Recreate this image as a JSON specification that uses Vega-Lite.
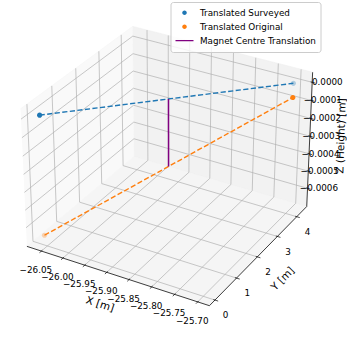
{
  "$schema": "https://vega.github.io/schema/vega-lite/v6.json",
  "width": 347,
  "height": 337,
  "autosize": {"type": "none"},
  "padding": 0,
  "background": "white",
  "params": [
    {"name": "x0", "value": -26.084},
    {"name": "x1", "value": -25.675},
    {"name": "y0", "value": -0.25},
    {"name": "y1", "value": 4.53},
    {"name": "z0", "value": -0.000707},
    {"name": "z1", "value": 0.0000549}
  ],
  "config": {
    "font": "DejaVu Sans",
    "view": {"stroke": null},
    "text": {"font": "DejaVu Sans", "fontSize": 8.8, "color": "#000000"}
  },
  "datasets": {
    "panes": [
      {"pane": "x", "k": 0, "fx": 0, "fy": 0, "fz": 0}, {"pane": "x", "k": 1, "fx": 0, "fy": 1, "fz": 0},
      {"pane": "x", "k": 2, "fx": 0, "fy": 1, "fz": 1}, {"pane": "x", "k": 3, "fx": 0, "fy": 0, "fz": 1},
      {"pane": "y", "k": 0, "fx": 0, "fy": 1, "fz": 0}, {"pane": "y", "k": 1, "fx": 1, "fy": 1, "fz": 0},
      {"pane": "y", "k": 2, "fx": 1, "fy": 1, "fz": 1}, {"pane": "y", "k": 3, "fx": 0, "fy": 1, "fz": 1},
      {"pane": "z", "k": 0, "fx": 0, "fy": 0, "fz": 0}, {"pane": "z", "k": 1, "fx": 1, "fy": 0, "fz": 0},
      {"pane": "z", "k": 2, "fx": 1, "fy": 1, "fz": 0}, {"pane": "z", "k": 3, "fx": 0, "fy": 1, "fz": 0}
    ],
    "ticks": [
      {"axis": "x", "t": -26.05}, {"axis": "x", "t": -26.0}, {"axis": "x", "t": -25.95}, {"axis": "x", "t": -25.9},
      {"axis": "x", "t": -25.85}, {"axis": "x", "t": -25.8}, {"axis": "x", "t": -25.75}, {"axis": "x", "t": -25.7},
      {"axis": "y", "t": 0}, {"axis": "y", "t": 1}, {"axis": "y", "t": 2}, {"axis": "y", "t": 3}, {"axis": "y", "t": 4},
      {"axis": "z", "t": -0.0006}, {"axis": "z", "t": -0.0005}, {"axis": "z", "t": -0.0004}, {"axis": "z", "t": -0.0003},
      {"axis": "z", "t": -0.0002}, {"axis": "z", "t": -0.0001}, {"axis": "z", "t": 0}
    ],
    "axes": [
      {"axis": "x", "title": "X [m]"},
      {"axis": "y", "title": "Y [m]"},
      {"axis": "z", "title": "Z (Height) [m]"}
    ],
    "pts": [
      {"series": "Translated Surveyed", "k": 0, "X": -26.056, "Y": 0, "Z": 0.000015},
      {"series": "Translated Surveyed", "k": 1, "X": -25.7, "Y": 4.15, "Z": 0.000015},
      {"series": "Translated Original", "k": 0, "X": -26.056, "Y": 0, "Z": -0.00065},
      {"series": "Translated Original", "k": 1, "X": -25.7, "Y": 4.15, "Z": -0.000063},
      {"series": "Magnet Centre Translation", "k": 0, "X": -25.878, "Y": 2.075, "Z": -0.0003565},
      {"series": "Magnet Centre Translation", "k": 1, "X": -25.878, "Y": 2.075, "Z": 0.000015}
    ]
  },
  "layer": [
    {
      "data": {"name": "panes"},
      "transform": [
        {"filter": "datum.pane=='x'"},
        {"calculate": "x0+datum.fx*(x1-x0)", "as": "X"},
        {"calculate": "y0+datum.fy*(y1-y0)", "as": "Y"},
        {"calculate": "z0+datum.fz*(z1-z0)", "as": "Z"},
        {"calculate": "((datum.X-x0)/(x1-x0)*2-1)*0.5714286", "as": "ax"},
        {"calculate": "((datum.Y-y0)/(y1-y0)*2-1)*0.5714286", "as": "ay"},
        {"calculate": "((datum.Z-z0)/(z1-z0)*2-1)*0.4285714", "as": "az"},
        {"calculate": "10-(0.4330127*datum.ax-0.75*datum.ay+0.5*datum.az)", "as": "dn"},
        {"calculate": "(0.8660254*datum.ax+0.5*datum.ay)/datum.dn", "as": "sx"},
        {"calculate": "(-0.25*datum.ax+0.4330127*datum.ay+0.8660254*datum.az)/datum.dn", "as": "sy"}
      ],
      "mark": {"type": "line", "fill": "#f9f9f9", "stroke": "#f5f5f5", "strokeWidth": 0.6},
      "encoding": {
        "x": {"field": "sx", "type": "quantitative", "scale": {"domain": [-0.09251, 0.0971], "nice": false, "zero": false}, "axis": null},
        "y": {"field": "sy", "type": "quantitative", "scale": {"domain": [-0.09694, 0.08721], "nice": false, "zero": false}, "axis": null},
        "order": {"field": "k", "type": "quantitative"}
      }
    },
    {
      "data": {"name": "panes"},
      "transform": [
        {"filter": "datum.pane=='y'"},
        {"calculate": "x0+datum.fx*(x1-x0)", "as": "X"},
        {"calculate": "y0+datum.fy*(y1-y0)", "as": "Y"},
        {"calculate": "z0+datum.fz*(z1-z0)", "as": "Z"},
        {"calculate": "((datum.X-x0)/(x1-x0)*2-1)*0.5714286", "as": "ax"},
        {"calculate": "((datum.Y-y0)/(y1-y0)*2-1)*0.5714286", "as": "ay"},
        {"calculate": "((datum.Z-z0)/(z1-z0)*2-1)*0.4285714", "as": "az"},
        {"calculate": "10-(0.4330127*datum.ax-0.75*datum.ay+0.5*datum.az)", "as": "dn"},
        {"calculate": "(0.8660254*datum.ax+0.5*datum.ay)/datum.dn", "as": "sx"},
        {"calculate": "(-0.25*datum.ax+0.4330127*datum.ay+0.8660254*datum.az)/datum.dn", "as": "sy"}
      ],
      "mark": {"type": "line", "fill": "#f2f2f2", "stroke": "#eeeeee", "strokeWidth": 0.6},
      "encoding": {
        "x": {"field": "sx", "type": "quantitative", "scale": {"domain": [-0.09251, 0.0971], "nice": false, "zero": false}, "axis": null},
        "y": {"field": "sy", "type": "quantitative", "scale": {"domain": [-0.09694, 0.08721], "nice": false, "zero": false}, "axis": null},
        "order": {"field": "k", "type": "quantitative"}
      }
    },
    {
      "data": {"name": "panes"},
      "transform": [
        {"filter": "datum.pane=='z'"},
        {"calculate": "x0+datum.fx*(x1-x0)", "as": "X"},
        {"calculate": "y0+datum.fy*(y1-y0)", "as": "Y"},
        {"calculate": "z0+datum.fz*(z1-z0)", "as": "Z"},
        {"calculate": "((datum.X-x0)/(x1-x0)*2-1)*0.5714286", "as": "ax"},
        {"calculate": "((datum.Y-y0)/(y1-y0)*2-1)*0.5714286", "as": "ay"},
        {"calculate": "((datum.Z-z0)/(z1-z0)*2-1)*0.4285714", "as": "az"},
        {"calculate": "10-(0.4330127*datum.ax-0.75*datum.ay+0.5*datum.az)", "as": "dn"},
        {"calculate": "(0.8660254*datum.ax+0.5*datum.ay)/datum.dn", "as": "sx"},
        {"calculate": "(-0.25*datum.ax+0.4330127*datum.ay+0.8660254*datum.az)/datum.dn", "as": "sy"}
      ],
      "mark": {"type": "line", "fill": "#f5f5f5", "stroke": "#f1f1f1", "strokeWidth": 0.6},
      "encoding": {
        "x": {"field": "sx", "type": "quantitative", "scale": {"domain": [-0.09251, 0.0971], "nice": false, "zero": false}, "axis": null},
        "y": {"field": "sy", "type": "quantitative", "scale": {"domain": [-0.09694, 0.08721], "nice": false, "zero": false}, "axis": null},
        "order": {"field": "k", "type": "quantitative"}
      }
    },
    {
      "data": {"name": "ticks"},
      "transform": [
        {"calculate": "datum.axis=='x'?datum.t:x0", "as": "X"},
        {"calculate": "datum.axis=='y'?datum.t:y0", "as": "Y"},
        {"calculate": "datum.axis=='z'?datum.t:z0", "as": "Z"},
        {"calculate": "datum.axis=='x'?datum.t:(datum.axis=='y'?x1:x0)", "as": "X2"},
        {"calculate": "datum.axis=='y'?datum.t:y1", "as": "Y2"},
        {"calculate": "datum.axis=='z'?datum.t:z0", "as": "Z2"},
        {"calculate": "((datum.X-x0)/(x1-x0)*2-1)*0.5714286", "as": "ax"},
        {"calculate": "((datum.Y-y0)/(y1-y0)*2-1)*0.5714286", "as": "ay"},
        {"calculate": "((datum.Z-z0)/(z1-z0)*2-1)*0.4285714", "as": "az"},
        {"calculate": "10-(0.4330127*datum.ax-0.75*datum.ay+0.5*datum.az)", "as": "dn"},
        {"calculate": "(0.8660254*datum.ax+0.5*datum.ay)/datum.dn", "as": "sx"},
        {"calculate": "(-0.25*datum.ax+0.4330127*datum.ay+0.8660254*datum.az)/datum.dn", "as": "sy"},
        {"calculate": "((datum.X2-x0)/(x1-x0)*2-1)*0.5714286", "as": "bx"},
        {"calculate": "((datum.Y2-y0)/(y1-y0)*2-1)*0.5714286", "as": "by"},
        {"calculate": "((datum.Z2-z0)/(z1-z0)*2-1)*0.4285714", "as": "bz"},
        {"calculate": "10-(0.4330127*datum.bx-0.75*datum.by+0.5*datum.bz)", "as": "dn2"},
        {"calculate": "(0.8660254*datum.bx+0.5*datum.by)/datum.dn2", "as": "sx2"},
        {"calculate": "(-0.25*datum.bx+0.4330127*datum.by+0.8660254*datum.bz)/datum.dn2", "as": "sy2"}
      ],
      "mark": {"type": "rule", "stroke": "#b0b0b0", "strokeWidth": 0.7},
      "encoding": {
        "x": {"field": "sx", "type": "quantitative", "scale": {"domain": [-0.09251, 0.0971], "nice": false, "zero": false}, "axis": null},
        "y": {"field": "sy", "type": "quantitative", "scale": {"domain": [-0.09694, 0.08721], "nice": false, "zero": false}, "axis": null},
        "x2": {"field": "sx2"},
        "y2": {"field": "sy2"}
      }
    },
    {
      "data": {"name": "ticks"},
      "transform": [
        {"calculate": "datum.axis=='x'?datum.t:x0", "as": "X"},
        {"calculate": "datum.axis=='y'?datum.t:y1", "as": "Y"},
        {"calculate": "datum.axis=='z'?datum.t:z0", "as": "Z"},
        {"calculate": "datum.axis=='x'?datum.t:(datum.axis=='z'?x1:x0)", "as": "X2"},
        {"calculate": "datum.axis=='y'?datum.t:y1", "as": "Y2"},
        {"calculate": "datum.axis=='z'?datum.t:z1", "as": "Z2"},
        {"calculate": "((datum.X-x0)/(x1-x0)*2-1)*0.5714286", "as": "ax"},
        {"calculate": "((datum.Y-y0)/(y1-y0)*2-1)*0.5714286", "as": "ay"},
        {"calculate": "((datum.Z-z0)/(z1-z0)*2-1)*0.4285714", "as": "az"},
        {"calculate": "10-(0.4330127*datum.ax-0.75*datum.ay+0.5*datum.az)", "as": "dn"},
        {"calculate": "(0.8660254*datum.ax+0.5*datum.ay)/datum.dn", "as": "sx"},
        {"calculate": "(-0.25*datum.ax+0.4330127*datum.ay+0.8660254*datum.az)/datum.dn", "as": "sy"},
        {"calculate": "((datum.X2-x0)/(x1-x0)*2-1)*0.5714286", "as": "bx"},
        {"calculate": "((datum.Y2-y0)/(y1-y0)*2-1)*0.5714286", "as": "by"},
        {"calculate": "((datum.Z2-z0)/(z1-z0)*2-1)*0.4285714", "as": "bz"},
        {"calculate": "10-(0.4330127*datum.bx-0.75*datum.by+0.5*datum.bz)", "as": "dn2"},
        {"calculate": "(0.8660254*datum.bx+0.5*datum.by)/datum.dn2", "as": "sx2"},
        {"calculate": "(-0.25*datum.bx+0.4330127*datum.by+0.8660254*datum.bz)/datum.dn2", "as": "sy2"}
      ],
      "mark": {"type": "rule", "stroke": "#b0b0b0", "strokeWidth": 0.7},
      "encoding": {
        "x": {"field": "sx", "type": "quantitative", "scale": {"domain": [-0.09251, 0.0971], "nice": false, "zero": false}, "axis": null},
        "y": {"field": "sy", "type": "quantitative", "scale": {"domain": [-0.09694, 0.08721], "nice": false, "zero": false}, "axis": null},
        "x2": {"field": "sx2"},
        "y2": {"field": "sy2"}
      }
    },
    {
      "data": {"name": "axes"},
      "transform": [
        {"calculate": "datum.axis=='x'?x0:x1", "as": "X"},
        {"calculate": "datum.axis=='z'?y1:y0", "as": "Y"},
        {"calculate": "z0", "as": "Z"},
        {"calculate": "x1", "as": "X2"},
        {"calculate": "datum.axis=='x'?y0:y1", "as": "Y2"},
        {"calculate": "datum.axis=='z'?z1:z0", "as": "Z2"},
        {"calculate": "((datum.X-x0)/(x1-x0)*2-1)*0.5714286", "as": "ax"},
        {"calculate": "((datum.Y-y0)/(y1-y0)*2-1)*0.5714286", "as": "ay"},
        {"calculate": "((datum.Z-z0)/(z1-z0)*2-1)*0.4285714", "as": "az"},
        {"calculate": "10-(0.4330127*datum.ax-0.75*datum.ay+0.5*datum.az)", "as": "dn"},
        {"calculate": "(0.8660254*datum.ax+0.5*datum.ay)/datum.dn", "as": "sx"},
        {"calculate": "(-0.25*datum.ax+0.4330127*datum.ay+0.8660254*datum.az)/datum.dn", "as": "sy"},
        {"calculate": "((datum.X2-x0)/(x1-x0)*2-1)*0.5714286", "as": "bx"},
        {"calculate": "((datum.Y2-y0)/(y1-y0)*2-1)*0.5714286", "as": "by"},
        {"calculate": "((datum.Z2-z0)/(z1-z0)*2-1)*0.4285714", "as": "bz"},
        {"calculate": "10-(0.4330127*datum.bx-0.75*datum.by+0.5*datum.bz)", "as": "dn2"},
        {"calculate": "(0.8660254*datum.bx+0.5*datum.by)/datum.dn2", "as": "sx2"},
        {"calculate": "(-0.25*datum.bx+0.4330127*datum.by+0.8660254*datum.bz)/datum.dn2", "as": "sy2"}
      ],
      "mark": {"type": "rule", "stroke": "#000000", "strokeWidth": 0.75},
      "encoding": {
        "x": {"field": "sx", "type": "quantitative", "scale": {"domain": [-0.09251, 0.0971], "nice": false, "zero": false}, "axis": null},
        "y": {"field": "sy", "type": "quantitative", "scale": {"domain": [-0.09694, 0.08721], "nice": false, "zero": false}, "axis": null},
        "x2": {"field": "sx2"},
        "y2": {"field": "sy2"}
      }
    },
    {
      "data": {"name": "ticks"},
      "transform": [
        {"calculate": "datum.axis=='x'?datum.t:x1-0.1*(x1-x0)/12", "as": "X"},
        {"calculate": "datum.axis=='x'?y0+0.1*(y1-y0)/12:(datum.axis=='y'?datum.t:y1)", "as": "Y"},
        {"calculate": "datum.axis=='z'?datum.t:z0", "as": "Z"},
        {"calculate": "datum.axis=='x'?datum.t:x1+0.2*(x1-x0)/12", "as": "X2"},
        {"calculate": "datum.axis=='x'?y0-0.2*(y1-y0)/12:(datum.axis=='y'?datum.t:y1)", "as": "Y2"},
        {"calculate": "datum.axis=='z'?datum.t:z0", "as": "Z2"},
        {"calculate": "((datum.X-x0)/(x1-x0)*2-1)*0.5714286", "as": "ax"},
        {"calculate": "((datum.Y-y0)/(y1-y0)*2-1)*0.5714286", "as": "ay"},
        {"calculate": "((datum.Z-z0)/(z1-z0)*2-1)*0.4285714", "as": "az"},
        {"calculate": "10-(0.4330127*datum.ax-0.75*datum.ay+0.5*datum.az)", "as": "dn"},
        {"calculate": "(0.8660254*datum.ax+0.5*datum.ay)/datum.dn", "as": "sx"},
        {"calculate": "(-0.25*datum.ax+0.4330127*datum.ay+0.8660254*datum.az)/datum.dn", "as": "sy"},
        {"calculate": "((datum.X2-x0)/(x1-x0)*2-1)*0.5714286", "as": "bx"},
        {"calculate": "((datum.Y2-y0)/(y1-y0)*2-1)*0.5714286", "as": "by"},
        {"calculate": "((datum.Z2-z0)/(z1-z0)*2-1)*0.4285714", "as": "bz"},
        {"calculate": "10-(0.4330127*datum.bx-0.75*datum.by+0.5*datum.bz)", "as": "dn2"},
        {"calculate": "(0.8660254*datum.bx+0.5*datum.by)/datum.dn2", "as": "sx2"},
        {"calculate": "(-0.25*datum.bx+0.4330127*datum.by+0.8660254*datum.bz)/datum.dn2", "as": "sy2"}
      ],
      "mark": {"type": "rule", "stroke": "#000000", "strokeWidth": 0.7},
      "encoding": {
        "x": {"field": "sx", "type": "quantitative", "scale": {"domain": [-0.09251, 0.0971], "nice": false, "zero": false}, "axis": null},
        "y": {"field": "sy", "type": "quantitative", "scale": {"domain": [-0.09694, 0.08721], "nice": false, "zero": false}, "axis": null},
        "x2": {"field": "sx2"},
        "y2": {"field": "sy2"}
      }
    },
    {
      "data": {"name": "ticks"},
      "transform": [
        {"filter": "datum.axis=='x'"},
        {"calculate": "datum.t", "as": "X"},
        {"calculate": "y0", "as": "Y"},
        {"calculate": "z0", "as": "Z"},
        {"calculate": "((datum.X-x0)/(x1-x0)*2-1)*0.5714286", "as": "ax"},
        {"calculate": "((datum.Y-y0)/(y1-y0)*2-1)*0.5714286", "as": "ay"},
        {"calculate": "((datum.Z-z0)/(z1-z0)*2-1)*0.4285714", "as": "az"},
        {"calculate": "10-(0.4330127*datum.ax-0.75*datum.ay+0.5*datum.az)", "as": "dn"},
        {"calculate": "(0.8660254*datum.ax+0.5*datum.ay)/datum.dn", "as": "sx"},
        {"calculate": "(-0.25*datum.ax+0.4330127*datum.ay+0.8660254*datum.az)/datum.dn", "as": "sy"}
      ],
      "mark": {"type": "text", "align": "center", "baseline": "middle", "dx": -5.5, "dy": 19, "fontSize": 8.8},
      "encoding": {
        "x": {"field": "sx", "type": "quantitative", "scale": {"domain": [-0.09251, 0.0971], "nice": false, "zero": false}, "axis": null},
        "y": {"field": "sy", "type": "quantitative", "scale": {"domain": [-0.09694, 0.08721], "nice": false, "zero": false}, "axis": null},
        "text": {"field": "t", "type": "quantitative", "format": ".2f"}
      }
    },
    {
      "data": {"name": "ticks"},
      "transform": [
        {"filter": "datum.axis=='y'"},
        {"calculate": "x1", "as": "X"},
        {"calculate": "datum.t", "as": "Y"},
        {"calculate": "z0", "as": "Z"},
        {"calculate": "((datum.X-x0)/(x1-x0)*2-1)*0.5714286", "as": "ax"},
        {"calculate": "((datum.Y-y0)/(y1-y0)*2-1)*0.5714286", "as": "ay"},
        {"calculate": "((datum.Z-z0)/(z1-z0)*2-1)*0.4285714", "as": "az"},
        {"calculate": "10-(0.4330127*datum.ax-0.75*datum.ay+0.5*datum.az)", "as": "dn"},
        {"calculate": "(0.8660254*datum.ax+0.5*datum.ay)/datum.dn", "as": "sx"},
        {"calculate": "(-0.25*datum.ax+0.4330127*datum.ay+0.8660254*datum.az)/datum.dn", "as": "sy"}
      ],
      "mark": {"type": "text", "align": "center", "baseline": "middle", "dx": 10.7, "dy": 15.2, "fontSize": 8.8},
      "encoding": {
        "x": {"field": "sx", "type": "quantitative", "scale": {"domain": [-0.09251, 0.0971], "nice": false, "zero": false}, "axis": null},
        "y": {"field": "sy", "type": "quantitative", "scale": {"domain": [-0.09694, 0.08721], "nice": false, "zero": false}, "axis": null},
        "text": {"field": "t", "type": "quantitative", "format": ".0f"}
      }
    },
    {
      "data": {"name": "ticks"},
      "transform": [
        {"filter": "datum.axis=='z'"},
        {"calculate": "x1", "as": "X"},
        {"calculate": "y1", "as": "Y"},
        {"calculate": "datum.t", "as": "Z"},
        {"calculate": "((datum.X-x0)/(x1-x0)*2-1)*0.5714286", "as": "ax"},
        {"calculate": "((datum.Y-y0)/(y1-y0)*2-1)*0.5714286", "as": "ay"},
        {"calculate": "((datum.Z-z0)/(z1-z0)*2-1)*0.4285714", "as": "az"},
        {"calculate": "10-(0.4330127*datum.ax-0.75*datum.ay+0.5*datum.az)", "as": "dn"},
        {"calculate": "(0.8660254*datum.ax+0.5*datum.ay)/datum.dn", "as": "sx"},
        {"calculate": "(-0.25*datum.ax+0.4330127*datum.ay+0.8660254*datum.az)/datum.dn", "as": "sy"}
      ],
      "mark": {"type": "text", "align": "right", "baseline": "middle", "dx": 30.5, "dy": 0, "fontSize": 8.8},
      "encoding": {
        "x": {"field": "sx", "type": "quantitative", "scale": {"domain": [-0.09251, 0.0971], "nice": false, "zero": false}, "axis": null},
        "y": {"field": "sy", "type": "quantitative", "scale": {"domain": [-0.09694, 0.08721], "nice": false, "zero": false}, "axis": null},
        "text": {"field": "t", "type": "quantitative", "format": ".4f"}
      }
    },
    {
      "data": {"name": "axes"},
      "transform": [
        {"filter": "datum.axis=='x'"},
        {"calculate": "(x0+x1)/2", "as": "X"},
        {"calculate": "y0", "as": "Y"},
        {"calculate": "z0", "as": "Z"},
        {"calculate": "((datum.X-x0)/(x1-x0)*2-1)*0.5714286", "as": "ax"},
        {"calculate": "((datum.Y-y0)/(y1-y0)*2-1)*0.5714286", "as": "ay"},
        {"calculate": "((datum.Z-z0)/(z1-z0)*2-1)*0.4285714", "as": "az"},
        {"calculate": "10-(0.4330127*datum.ax-0.75*datum.ay+0.5*datum.az)", "as": "dn"},
        {"calculate": "(0.8660254*datum.ax+0.5*datum.ay)/datum.dn", "as": "sx"},
        {"calculate": "(-0.25*datum.ax+0.4330127*datum.ay+0.8660254*datum.az)/datum.dn", "as": "sy"}
      ],
      "mark": {"type": "text", "align": "center", "baseline": "middle", "angle": 17.9, "dx": -6.1, "dy": 32.7, "fontSize": 10.5},
      "encoding": {
        "x": {"field": "sx", "type": "quantitative", "scale": {"domain": [-0.09251, 0.0971], "nice": false, "zero": false}, "axis": null},
        "y": {"field": "sy", "type": "quantitative", "scale": {"domain": [-0.09694, 0.08721], "nice": false, "zero": false}, "axis": null},
        "text": {"field": "title", "type": "nominal"}
      }
    },
    {
      "data": {"name": "axes"},
      "transform": [
        {"filter": "datum.axis=='y'"},
        {"calculate": "x1", "as": "X"},
        {"calculate": "(y0+y1)/2", "as": "Y"},
        {"calculate": "z0", "as": "Z"},
        {"calculate": "((datum.X-x0)/(x1-x0)*2-1)*0.5714286", "as": "ax"},
        {"calculate": "((datum.Y-y0)/(y1-y0)*2-1)*0.5714286", "as": "ay"},
        {"calculate": "((datum.Z-z0)/(z1-z0)*2-1)*0.4285714", "as": "az"},
        {"calculate": "10-(0.4330127*datum.ax-0.75*datum.ay+0.5*datum.az)", "as": "dn"},
        {"calculate": "(0.8660254*datum.ax+0.5*datum.ay)/datum.dn", "as": "sx"},
        {"calculate": "(-0.25*datum.ax+0.4330127*datum.ay+0.8660254*datum.az)/datum.dn", "as": "sy"}
      ],
      "mark": {"type": "text", "align": "center", "baseline": "middle", "angle": -45.8, "dx": -2.1, "dy": 33.8, "fontSize": 10.5},
      "encoding": {
        "x": {"field": "sx", "type": "quantitative", "scale": {"domain": [-0.09251, 0.0971], "nice": false, "zero": false}, "axis": null},
        "y": {"field": "sy", "type": "quantitative", "scale": {"domain": [-0.09694, 0.08721], "nice": false, "zero": false}, "axis": null},
        "text": {"field": "title", "type": "nominal"}
      }
    },
    {
      "data": {"name": "axes"},
      "transform": [
        {"filter": "datum.axis=='z'"},
        {"calculate": "x1", "as": "X"},
        {"calculate": "y1", "as": "Y"},
        {"calculate": "(z0+z1)/2", "as": "Z"},
        {"calculate": "((datum.X-x0)/(x1-x0)*2-1)*0.5714286", "as": "ax"},
        {"calculate": "((datum.Y-y0)/(y1-y0)*2-1)*0.5714286", "as": "ay"},
        {"calculate": "((datum.Z-z0)/(z1-z0)*2-1)*0.4285714", "as": "az"},
        {"calculate": "10-(0.4330127*datum.ax-0.75*datum.ay+0.5*datum.az)", "as": "dn"},
        {"calculate": "(0.8660254*datum.ax+0.5*datum.ay)/datum.dn", "as": "sx"},
        {"calculate": "(-0.25*datum.ax+0.4330127*datum.ay+0.8660254*datum.az)/datum.dn", "as": "sy"}
      ],
      "mark": {"type": "text", "align": "center", "baseline": "middle", "angle": -88.2, "dx": 5.8, "dy": 31.7, "fontSize": 10.5},
      "encoding": {
        "x": {"field": "sx", "type": "quantitative", "scale": {"domain": [-0.09251, 0.0971], "nice": false, "zero": false}, "axis": null},
        "y": {"field": "sy", "type": "quantitative", "scale": {"domain": [-0.09694, 0.08721], "nice": false, "zero": false}, "axis": null},
        "text": {"field": "title", "type": "nominal"}
      }
    },
    {
      "data": {"name": "pts"},
      "transform": [
        {"filter": "datum.series=='Translated Surveyed'"},
        {"calculate": "((datum.X-x0)/(x1-x0)*2-1)*0.5714286", "as": "ax"},
        {"calculate": "((datum.Y-y0)/(y1-y0)*2-1)*0.5714286", "as": "ay"},
        {"calculate": "((datum.Z-z0)/(z1-z0)*2-1)*0.4285714", "as": "az"},
        {"calculate": "10-(0.4330127*datum.ax-0.75*datum.ay+0.5*datum.az)", "as": "dn"},
        {"calculate": "(0.8660254*datum.ax+0.5*datum.ay)/datum.dn", "as": "sx"},
        {"calculate": "(-0.25*datum.ax+0.4330127*datum.ay+0.8660254*datum.az)/datum.dn", "as": "sy"}
      ],
      "mark": {"type": "line", "stroke": "#1f77b4", "strokeWidth": 1.4, "strokeDash": [5.2, 2.4]},
      "encoding": {
        "x": {"field": "sx", "type": "quantitative", "scale": {"domain": [-0.09251, 0.0971], "nice": false, "zero": false}, "axis": null},
        "y": {"field": "sy", "type": "quantitative", "scale": {"domain": [-0.09694, 0.08721], "nice": false, "zero": false}, "axis": null},
        "order": {"field": "k", "type": "quantitative"}
      }
    },
    {
      "data": {"name": "pts"},
      "transform": [
        {"filter": "datum.series=='Translated Original'"},
        {"calculate": "((datum.X-x0)/(x1-x0)*2-1)*0.5714286", "as": "ax"},
        {"calculate": "((datum.Y-y0)/(y1-y0)*2-1)*0.5714286", "as": "ay"},
        {"calculate": "((datum.Z-z0)/(z1-z0)*2-1)*0.4285714", "as": "az"},
        {"calculate": "10-(0.4330127*datum.ax-0.75*datum.ay+0.5*datum.az)", "as": "dn"},
        {"calculate": "(0.8660254*datum.ax+0.5*datum.ay)/datum.dn", "as": "sx"},
        {"calculate": "(-0.25*datum.ax+0.4330127*datum.ay+0.8660254*datum.az)/datum.dn", "as": "sy"}
      ],
      "mark": {"type": "line", "stroke": "#ff7f0e", "strokeWidth": 1.4, "strokeDash": [5.2, 2.4]},
      "encoding": {
        "x": {"field": "sx", "type": "quantitative", "scale": {"domain": [-0.09251, 0.0971], "nice": false, "zero": false}, "axis": null},
        "y": {"field": "sy", "type": "quantitative", "scale": {"domain": [-0.09694, 0.08721], "nice": false, "zero": false}, "axis": null},
        "order": {"field": "k", "type": "quantitative"}
      }
    },
    {
      "data": {"name": "pts"},
      "transform": [
        {"filter": "datum.series=='Magnet Centre Translation'"},
        {"calculate": "((datum.X-x0)/(x1-x0)*2-1)*0.5714286", "as": "ax"},
        {"calculate": "((datum.Y-y0)/(y1-y0)*2-1)*0.5714286", "as": "ay"},
        {"calculate": "((datum.Z-z0)/(z1-z0)*2-1)*0.4285714", "as": "az"},
        {"calculate": "10-(0.4330127*datum.ax-0.75*datum.ay+0.5*datum.az)", "as": "dn"},
        {"calculate": "(0.8660254*datum.ax+0.5*datum.ay)/datum.dn", "as": "sx"},
        {"calculate": "(-0.25*datum.ax+0.4330127*datum.ay+0.8660254*datum.az)/datum.dn", "as": "sy"}
      ],
      "mark": {"type": "line", "stroke": "purple", "strokeWidth": 1.5},
      "encoding": {
        "x": {"field": "sx", "type": "quantitative", "scale": {"domain": [-0.09251, 0.0971], "nice": false, "zero": false}, "axis": null},
        "y": {"field": "sy", "type": "quantitative", "scale": {"domain": [-0.09694, 0.08721], "nice": false, "zero": false}, "axis": null},
        "order": {"field": "k", "type": "quantitative"}
      }
    },
    {
      "data": {"name": "pts"},
      "transform": [
        {"filter": "datum.series!='Magnet Centre Translation'"},
        {"calculate": "((datum.X-x0)/(x1-x0)*2-1)*0.5714286", "as": "ax"},
        {"calculate": "((datum.Y-y0)/(y1-y0)*2-1)*0.5714286", "as": "ay"},
        {"calculate": "((datum.Z-z0)/(z1-z0)*2-1)*0.4285714", "as": "az"},
        {"calculate": "10-(0.4330127*datum.ax-0.75*datum.ay+0.5*datum.az)", "as": "dn"},
        {"calculate": "(0.8660254*datum.ax+0.5*datum.ay)/datum.dn", "as": "sx"},
        {"calculate": "(-0.25*datum.ax+0.4330127*datum.ay+0.8660254*datum.az)/datum.dn", "as": "sy"},
        {"joinaggregate": [{"op": "min", "field": "dn", "as": "dmin"}, {"op": "max", "field": "dn", "as": "dmax"}], "groupby": ["series"]},
        {"calculate": "1-0.7*(datum.dn-datum.dmin)/max(0.000001,datum.dmax-datum.dmin)", "as": "alpha"}
      ],
      "mark": {"type": "point", "filled": true, "size": 430, "strokeWidth": 1.4},
      "encoding": {
        "x": {"field": "sx", "type": "quantitative", "scale": {"domain": [-0.09251, 0.0971], "nice": false, "zero": false}, "axis": null},
        "y": {"field": "sy", "type": "quantitative", "scale": {"domain": [-0.09694, 0.08721], "nice": false, "zero": false}, "axis": null},
        "opacity": {"field": "alpha", "type": "quantitative", "scale": null, "legend": null},
        "color": {
          "field": "series", "type": "nominal",
          "scale": {"domain": ["Translated Surveyed", "Translated Original", "Magnet Centre Translation"], "range": ["#1f77b4", "#ff7f0e", "purple"]},
          "legend": {
            "title": null, "orient": "none", "legendX": 170.5, "legendY": 2,
            "padding": 4, "rowPadding": 0, "clipHeight": 13.3, "labelOffset": 5.5,
            "labelFont": "DejaVu Sans", "labelFontSize": 8.8, "labelColor": "#000000", "labelLimit": 0,
            "strokeColor": "#cccccc", "fillColor": "rgba(255,255,255,0.8)", "cornerRadius": 2.5,
            "symbolSize": 324, "symbolStrokeWidth": 1.4, "symbolOpacity": 1
          }
        },
        "stroke": {
          "field": "series", "type": "nominal",
          "scale": {"domain": ["Translated Surveyed", "Translated Original", "Magnet Centre Translation"], "range": ["rgba(0,0,0,0)", "rgba(0,0,0,0)", "purple"]},
          "legend": {
            "title": null, "orient": "none", "legendX": 170.5, "legendY": 2,
            "padding": 4, "rowPadding": 0, "clipHeight": 13.3, "labelOffset": 5.5,
            "labelFont": "DejaVu Sans", "labelFontSize": 8.8, "labelColor": "#000000", "labelLimit": 0,
            "strokeColor": "#cccccc", "fillColor": "rgba(255,255,255,0.8)", "cornerRadius": 2.5,
            "symbolSize": 324, "symbolStrokeWidth": 1.4, "symbolOpacity": 1
          }
        },
        "shape": {
          "field": "series", "type": "nominal",
          "scale": {"domain": ["Translated Surveyed", "Translated Original", "Magnet Centre Translation"], "range": ["M-0.25,0A0.25,0.25,0,1,1,0.25,0A0.25,0.25,0,1,1,-0.25,0Z", "M-0.25,0A0.25,0.25,0,1,1,0.25,0A0.25,0.25,0,1,1,-0.25,0Z", "M-1,0L1,0"]},
          "legend": {
            "title": null, "orient": "none", "legendX": 170.5, "legendY": 2,
            "padding": 4, "rowPadding": 0, "clipHeight": 13.3, "labelOffset": 5.5,
            "labelFont": "DejaVu Sans", "labelFontSize": 8.8, "labelColor": "#000000", "labelLimit": 0,
            "strokeColor": "#cccccc", "fillColor": "rgba(255,255,255,0.8)", "cornerRadius": 2.5,
            "symbolSize": 324, "symbolStrokeWidth": 1.4, "symbolOpacity": 1
          }
        }
      }
    }
  ]
}
